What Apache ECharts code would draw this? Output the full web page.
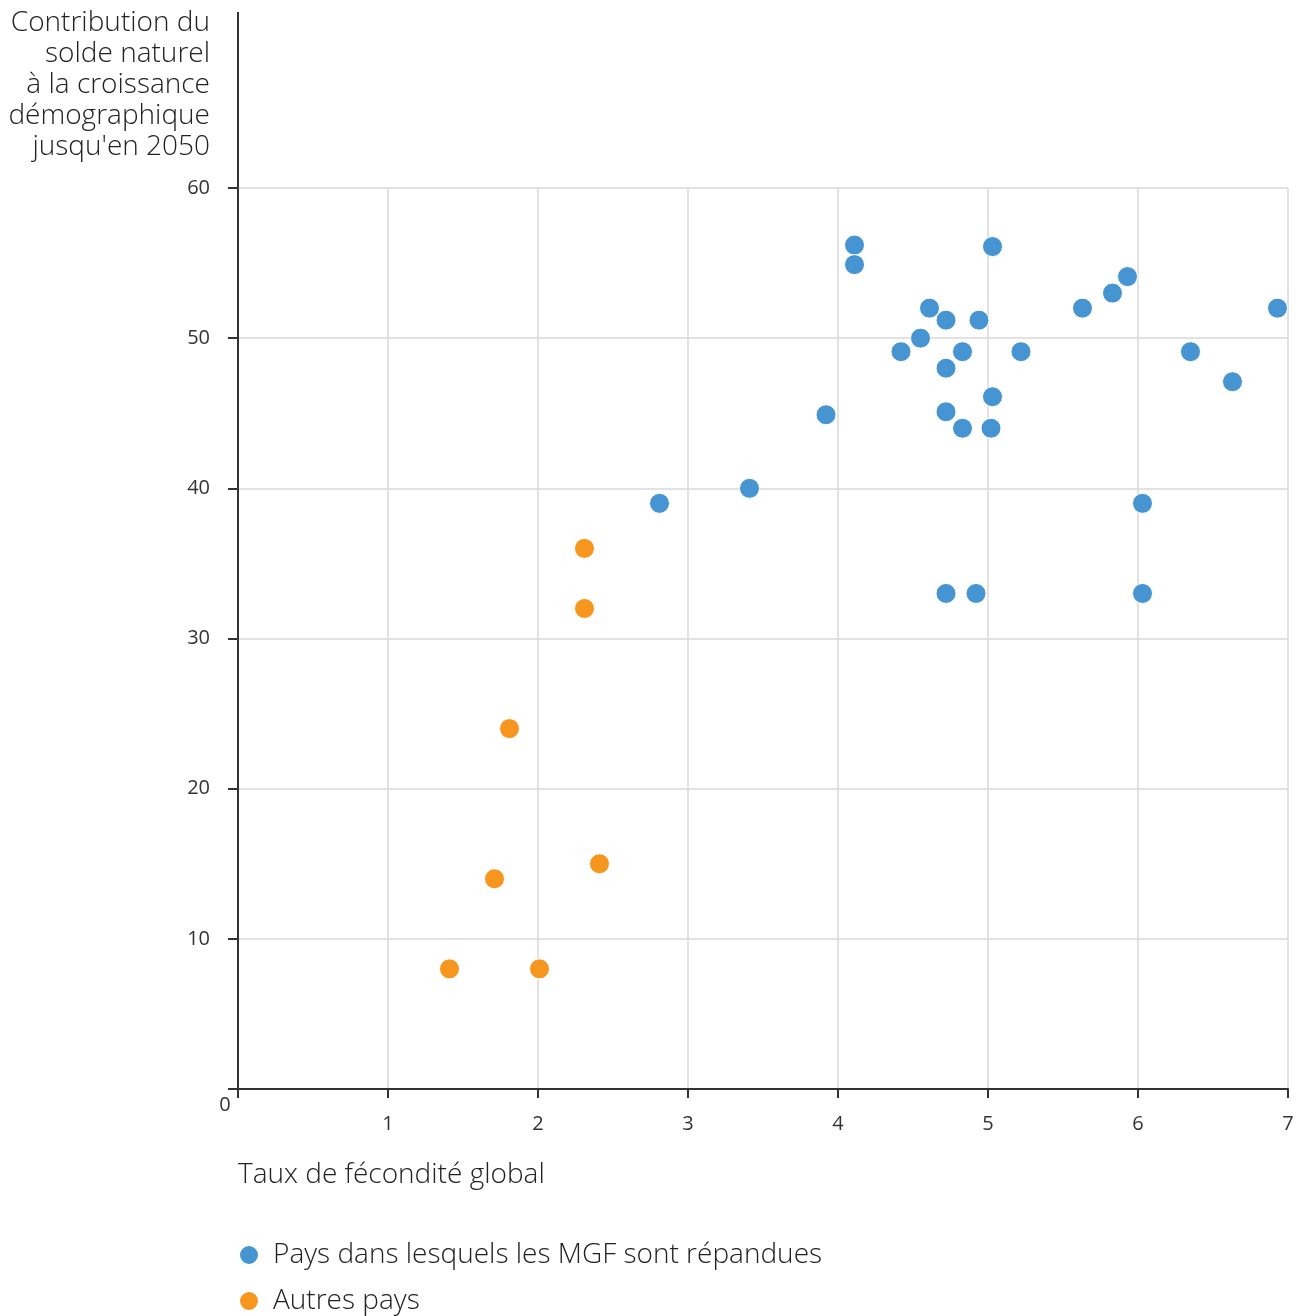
<!DOCTYPE html>
<html><head><meta charset="utf-8">
<script src="https://cdn.jsdelivr.net/npm/echarts@6/dist/echarts.min.js"></script>
<style>html,body{margin:0;padding:0;background:#fff}#c{width:1302px;height:1316px}</style>
</head><body><div id="c"></div>
<script>
const seriesNames = ['Pays dans lesquels les MGF sont répandues', 'Autres pays'];
const mgfX = [4.11, 4.11, 5.03, 4.61, 4.72, 4.94, 4.55, 4.42, 4.83, 4.72, 5.22, 5.03, 4.72, 4.83, 5.02, 3.92, 3.41, 2.81, 4.72, 4.92, 6.03, 6.03, 5.63, 5.83, 5.93, 6.35, 6.63, 6.93];
const mgfY = [56.2, 54.9, 56.1, 52.0, 51.2, 51.2, 50.0, 49.1, 49.1, 48.0, 49.1, 46.1, 45.1, 44.0, 44.0, 44.9, 40.0, 39.0, 33.0, 33.0, 39.0, 33.0, 52.0, 53.0, 54.1, 49.1, 47.1, 52.0];
const autresX = [2.31, 2.31, 1.81, 2.41, 1.71, 1.41, 2.01];
const autresY = [36.0, 32.0, 24.0, 15.0, 14.0, 8.0, 8.0];
const xTicks = [0, 1, 2, 3, 4, 5, 6, 7];
const yTicks = [0, 10, 20, 30, 40, 50, 60];
const xTitle = 'Taux de fécondité global';
const yTitle = "Contribution du\nsolde naturel\nà la croissance\ndémographique\njusqu'en 2050";

const FONT = 'Open Sans';
const chart = echarts.init(document.getElementById('c'), null, {renderer: 'canvas'});
const pair = (xs, ys) => xs.map((x, i) => [x, ys[i]]);
chart.setOption({
  animation: false,
  textStyle: {fontFamily: FONT},
  grid: {left: 238, right: 14, top: 188, bottom: 227, containLabel: false},
  legend: {
    orient: 'vertical', left: 238, top: 1240, itemGap: 16, height: 76, padding: 0,
    icon: 'circle', itemWidth: 20, itemHeight: 20,
    textStyle: {fontSize: 28, lineHeight: 30, color: '#222', fontFamily: FONT, fontWeight: 300, padding: [0, 0, 0, 9]},
    data: seriesNames
  },
  xAxis: {
    type: 'value', min: xTicks[0], max: xTicks[xTicks.length - 1], interval: 1,
    name: xTitle, nameLocation: 'start', nameGap: 0,
    nameTextStyle: {fontSize: 28, color: '#222', align: 'left', verticalAlign: 'top', padding: [72, 0, 0, 0], fontWeight: 300},
    axisLine: {lineStyle: {color: '#333', width: 2}},
    axisTick: {show: true, length: 9, lineStyle: {color: '#333', width: 2}},
    axisLabel: {fontSize: 20, color: '#333', margin: 25, formatter: v => v === 0 ? '' : String(v)},
    splitLine: {show: true, lineStyle: {color: '#d9d9d9', width: 1.5}}
  },
  yAxis: {
    type: 'value', min: yTicks[0], max: yTicks[yTicks.length - 1], interval: 10,
    name: yTitle, nameLocation: 'end', nameGap: 25,
    nameTextStyle: {fontSize: 28, color: '#222', align: 'right', verticalAlign: 'bottom', lineHeight: 31, padding: [0, 28, 0, 0], fontWeight: 300},
    axisLine: {lineStyle: {color: '#333', width: 2}},
    axisTick: {show: true, length: 10, lineStyle: {color: '#333', width: 2}},
    axisLabel: {fontSize: 20, color: '#333', margin: 28, formatter: v => v === 0 ? '' : String(v)},
    splitLine: {show: true, lineStyle: {color: '#d9d9d9', width: 1.5}}
  },
  graphic: [
    {type: 'line', shape: {x1: 238, y1: 12, x2: 238, y2: 188}, style: {stroke: '#333', lineWidth: 2}},
    {type: 'text', x: 225, y: 1105, style: {text: '0', fontSize: 20, fill: '#333', fontFamily: FONT, align: 'center', verticalAlign: 'middle'}}
  ],
  series: [
    {name: seriesNames[0], type: 'scatter', symbolSize: 20, data: pair(mgfX, mgfY),
     itemStyle: {color: '#4694d2', borderColor: '#fff', borderWidth: 1, opacity: 1}},
    {name: seriesNames[1], type: 'scatter', symbolSize: 20, data: pair(autresX, autresY),
     itemStyle: {color: '#f7961e', borderColor: '#fff', borderWidth: 1, opacity: 1}}
  ]
});
</script></body></html>
